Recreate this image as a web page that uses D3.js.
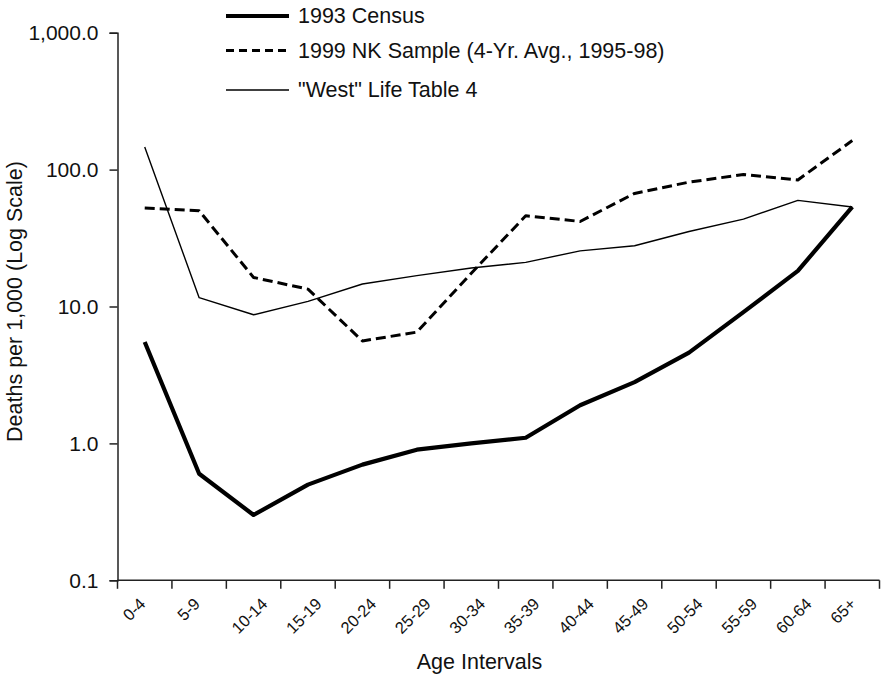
<!DOCTYPE html>
<html>
<head>
<meta charset="utf-8">
<script src="https://cdn.jsdelivr.net/npm/d3@7"></script>
<style>
  html, body { margin: 0; padding: 0; background: #fff; }
  svg text { font-family: "Liberation Sans", Arial, Helvetica, sans-serif; fill: #111; }
</style>
</head>
<body>
<svg id="chart" width="882" height="677"></svg>
<script>
// Age groups along the horizontal axis
const ageGroups = ["0-4", "5-9", "10-14", "15-19", "20-24", "25-29", "30-34",
                   "35-39", "40-44", "45-49", "50-54", "55-59", "60-64", "65+"];

// Deaths per 1,000 by age group
const census1993 = [5.5, 0.6, 0.3, 0.5, 0.7, 0.9, 1.0, 1.1, 1.9, 2.8, 4.6, 9.1, 18.2, 53.5];
const nkSample1999 = [52.4, 50.0, 16.3, 13.4, 5.6, 6.5, 17.5, 46.0, 41.8, 67.0, 81.0, 92.0, 84.0, 163.0];
const westTable4 = [146.0, 11.6, 8.7, 10.9, 14.6, 16.8, 19.1, 21.0, 25.5, 27.8, 35.3, 43.5, 59.6, 53.3];

// Log-scale ticks
const yTicks = [0.1, 1, 10, 100, 1000];

const seriesNames = ["1993 Census", "1999 NK Sample (4-Yr. Avg., 1995-98)", "\"West\" Life Table 4"];

const svg = d3.select("#chart");
const plot = { left: 117.5, right: 879.5, top: 32.7, bottom: 580.3 };

const x = d3.scaleBand().domain(ageGroups).range([plot.left, plot.right]).padding(0);
const y = d3.scaleLog().domain([0.1, 1000]).range([plot.bottom, plot.top]);

const fmt = d3.format(",.1f");

// Y axis
const yAxis = svg.append("g")
  .attr("transform", `translate(${plot.left},0)`)
  .call(d3.axisLeft(y).tickValues(yTicks).tickFormat(fmt).tickSize(8).tickPadding(11));
yAxis.select(".domain").attr("stroke", "#222").attr("stroke-width", 1.5);
yAxis.selectAll(".tick line").attr("stroke", "#222").attr("stroke-width", 1.5);
yAxis.selectAll(".tick text").attr("font-size", 21).style("font-family", "'Liberation Sans', Arial, sans-serif").attr("fill", "#111");

// X axis: ticks at category boundaries
const boundaries = ageGroups.map(d => x(d)).concat([plot.right]);
const xg = svg.append("g");
xg.append("line")
  .attr("x1", plot.left).attr("x2", plot.right)
  .attr("y1", plot.bottom).attr("y2", plot.bottom)
  .attr("stroke", "#222").attr("stroke-width", 1.5);
xg.selectAll("line.tk").data(boundaries).join("line")
  .attr("class", "tk")
  .attr("x1", d => d).attr("x2", d => d)
  .attr("y1", plot.bottom).attr("y2", plot.bottom + 8.5)
  .attr("stroke", "#222").attr("stroke-width", 1.5);

// Rotated category labels
const labels = xg.selectAll("text.lbl").data(ageGroups).join("text")
  .attr("class", "lbl")
  .attr("font-size", 16.5)
  .attr("text-anchor", "end")
  .text(d => d);
labels.each(function(d) {
  const L = this.getComputedTextLength();
  const cx = x(d) + x.bandwidth() / 2;
  d3.select(this).attr("transform", `translate(${cx - 15 + 0.707 * L},605) rotate(-45)`);
});

// Axis titles
svg.append("text")
  .attr("x", 479.5).attr("y", 669)
  .attr("text-anchor", "middle").attr("font-size", 21.5)
  .text("Age Intervals");
svg.append("text")
  .attr("transform", "translate(22,301.5) rotate(-90)")
  .attr("text-anchor", "middle").attr("font-size", 21.5)
  .text("Deaths per 1,000 (Log Scale)");

// Series lines
const line = d3.line()
  .x((d, i) => x(ageGroups[i]) + x.bandwidth() / 2)
  .y(d => y(d));

const styles = [
  { data: census1993, width: 4.2, dash: null },
  { data: nkSample1999, width: 3, dash: "10,5" },
  { data: westTable4, width: 1.4, dash: null }
];

styles.forEach(s => {
  svg.append("path")
    .datum(s.data)
    .attr("d", line)
    .attr("fill", "none")
    .attr("stroke", "#000")
    .attr("stroke-width", s.width)
    .attr("stroke-linejoin", "round")
    .attr("stroke-dasharray", s.dash);
});

// Legend
const legendRows = [16, 50.5, 90];
const legend = svg.append("g");
styles.forEach((s, i) => {
  legend.append("line")
    .attr("x1", 226).attr("x2", 289)
    .attr("y1", legendRows[i]).attr("y2", legendRows[i])
    .attr("stroke", "#000")
    .attr("stroke-width", s.width)
    .attr("stroke-dasharray", s.dash ? "8,5" : null);
  legend.append("text")
    .attr("x", 298).attr("y", legendRows[i] + 7)
    .attr("font-size", 21.5)
    .text(seriesNames[i]);
});
</script>
</body>
</html>
